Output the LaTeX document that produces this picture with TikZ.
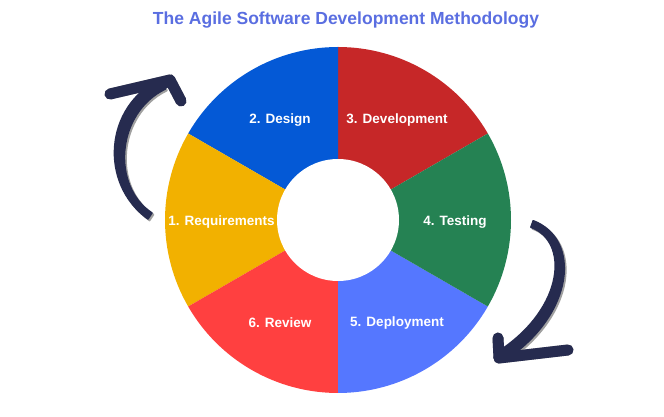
\documentclass[tikz,border=0pt]{standalone}
\usepackage{fontspec}
\setmainfont{Liberation Sans}
\definecolor{cdesign}{RGB}{4,89,214}
\definecolor{cdev}{RGB}{198,39,40}
\definecolor{ctest}{RGB}{37,130,83}
\definecolor{cdeploy}{RGB}{85,119,255}
\definecolor{creview}{RGB}{255,64,64}
\definecolor{creq}{RGB}{242,177,0}
\definecolor{ctitle}{RGB}{90,110,225}
\definecolor{carrow}{RGB}{38,43,79}
\definecolor{cshadow}{RGB}{160,160,160}
\tikzset{
  seglabel/.style={text=white,font=\fontsize{13.5}{16}\selectfont\bfseries,inner sep=0pt},
  arrowstroke/.style={draw=carrow,line width=11pt,line cap=round,line join=round},
  arrowbody/.style={fill=carrow,draw=carrow,line width=1.5pt,line join=round},
  shadowstroke/.style={draw=cshadow,line width=11pt,line cap=round,line join=round},
  shadowbody/.style={fill=cshadow,draw=cshadow,line width=1.5pt,line join=round},
}
\newcommand{\seg}[3]{%
  \fill[#3] (338,197) ++(#1:173) arc[start angle=#1,end angle=#2,radius=173]
    -- (338,197) -- cycle;}
\newcommand{\leftshaft}{(148,198) .. controls (99,233) and (104,311) .. (160.6,338)
  -- (165.4,328) .. controls (116,304) and (111,231) .. (152,204) -- cycle}
\newcommand{\rightshaft}{(533.2,196.3) .. controls (581,178) and (575,104) .. (506.1,57.4)
  -- (499.9,66.6) .. controls (565,110) and (569,176) .. (530.8,189.7) -- cycle}
\begin{document}
\begin{tikzpicture}[x=1pt,y=1pt]
\useasboundingbox (0,0) rectangle (664,417);
\fill[white] (0,0) rectangle (664,417);
% donut
\seg{30}{90}{cdev}
\seg{90}{150}{cdesign}
\seg{150}{210}{creq}
\seg{210}{270}{creview}
\seg{270}{330}{cdeploy}
\seg{-30}{30}{ctest}
\fill[white] (338,197) circle[radius=61];
% labels
\node[seglabel] (design) at (280,297) {2. Design};
\node[seglabel] (dev) at (397,297) {3. Development};
\node[seglabel] (test) at (455,195) {4. Testing};
\node[seglabel] (deploy) at (397,94) {5. Deployment};
\node[seglabel] (review) at (280,94) {6. Review};
\node[seglabel] (req) at (221.5,195) {1. Requirements};
% title
\node[text=ctitle,font=\fontsize{17.5}{20}\selectfont\bfseries,inner sep=0pt] (title) at (346,397) {The Agile Software Development Methodology};
% left arrow
\coordinate (la1) at (163,333);
\coordinate (latip) at (170,337);
\coordinate (lab1) at (110,323);
\coordinate (lab2) at (181,316);
\begin{scope}[shift={(1.6,-1.6)}]
\path[shadowbody] \leftshaft;
\draw[shadowstroke] (la1) -- (latip);
\draw[shadowstroke] (lab1) -- (latip) -- (lab2);
\end{scope}
\path[arrowbody] \leftshaft;
\draw[arrowstroke] (la1) -- (latip);
\draw[arrowstroke] (lab1) -- (latip) -- (lab2);
% right arrow
\coordinate (ra1) at (503,62);
\coordinate (ratip) at (499,59);
\coordinate (rab1) at (498,79);
\coordinate (rab2) at (568,67);
\begin{scope}[shift={(1.6,-1.6)}]
\path[shadowbody] \rightshaft;
\draw[shadowstroke] (ra1) -- (ratip);
\draw[shadowstroke] (rab1) -- (ratip) -- (rab2);
\end{scope}
\path[arrowbody] \rightshaft;
\draw[arrowstroke] (ra1) -- (ratip);
\draw[arrowstroke] (rab1) -- (ratip) -- (rab2);
\end{tikzpicture}
\end{document}
